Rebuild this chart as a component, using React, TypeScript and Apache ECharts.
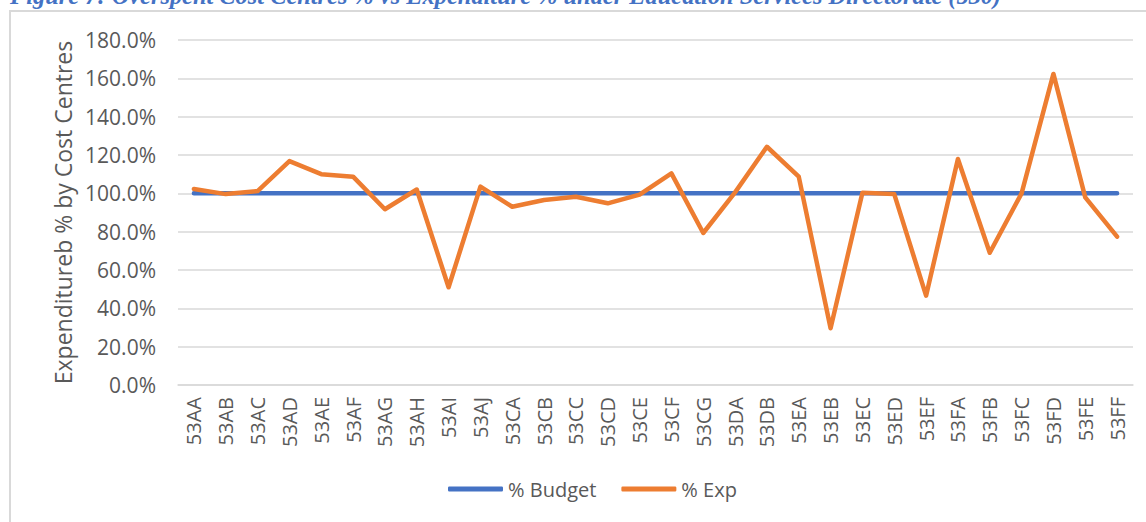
import React, { useEffect, useRef } from "react";
import * as echarts from "echarts";

const categories = [
  "53AA", "53AB", "53AC", "53AD", "53AE", "53AF", "53AG", "53AH", "53AI", "53AJ",
  "53CA", "53CB", "53CC", "53CD", "53CE", "53CF", "53CG", "53DA", "53DB", "53EA",
  "53EB", "53EC", "53ED", "53EF", "53FA", "53FB", "53FC", "53FD", "53FE", "53FF",
];
const budgetValues = categories.map(() => 100);
const expValues = [
  102.3, 99.6, 101.2, 116.8, 110.0, 108.7, 91.7, 102.0, 51.0, 103.5,
  93.0, 96.5, 98.2, 94.8, 99.3, 110.4, 79.3, 100.5, 124.3, 108.7,
  29.6, 100.3, 99.6, 46.6, 117.9, 69.0, 100.0, 162.3, 97.9, 77.4,
];
const yTicks = { min: 0, max: 180, interval: 20 };
const titleText = "Figure 7: Overspent Cost Centres % vs Expenditure % under Education Services Directorate (530)";
const yAxisName = "Expenditureb % by Cost Centres";
const seriesNames = ["% Budget", "% Exp"];

const FONT = "'Open Sans', sans-serif";
const TXT = "#595959";

export default function App() {
  const ref = useRef<HTMLDivElement>(null);
  useEffect(() => {
    const chart = echarts.init(ref.current!, null, { renderer: "svg" });
    chart.setOption({
      animation: false,
      backgroundColor: "#ffffff",
      textStyle: { fontFamily: FONT },
      graphic: [
        {
          type: "line",
          shape: { x1: 9, y1: 11, x2: 1146, y2: 11 },
          style: { stroke: "#d9d9d9", lineWidth: 2 },
        },
        {
          type: "line",
          shape: { x1: 10, y1: 11, x2: 10, y2: 522 },
          style: { stroke: "#d9d9d9", lineWidth: 2 },
        },
        {
          type: "text",
          x: 10,
          y: 7,
          style: {
            text: titleText,
            fill: "#4472C4",
            font: "italic bold 24.4px 'Liberation Serif', serif",
            verticalAlign: "bottom",
            align: "left",
          },
        },
      ],
      grid: { left: 178, right: 13, top: 40, bottom: 137 },
      legend: {
        bottom: 18,
        left: 443,
        icon: "roundRect",
        itemWidth: 55,
        itemHeight: 5,
        itemGap: 25,
        textStyle: { color: TXT, fontSize: 20, fontFamily: FONT },
        data: seriesNames,
      },
      xAxis: {
        type: "category",
        data: categories,
        boundaryGap: true,
        axisLine: { lineStyle: { color: "#d9d9d9", width: 1.5 } },
        axisTick: { show: false },
        axisLabel: {
          rotate: 90,
          interval: 0,
          margin: 12,
          color: TXT,
          fontSize: 20,
          fontFamily: FONT,
        },
      },
      yAxis: {
        type: "value",
        min: yTicks.min,
        max: yTicks.max,
        interval: yTicks.interval,
        name: yAxisName,
        nameLocation: "middle",
        nameGap: 103,
        nameTextStyle: { color: TXT, fontSize: 23, fontFamily: FONT },
        axisLine: { show: false },
        axisTick: { show: false },
        splitLine: { lineStyle: { color: "#d9d9d9", width: 1.5 } },
        axisLabel: {
          color: TXT,
          fontSize: 21,
          margin: 22,
          fontFamily: FONT,
          formatter: (v: number) => v.toFixed(1) + "%",
        },
      },
      series: [
        {
          name: seriesNames[0],
          type: "line",
          data: budgetValues,
          symbol: "none",
          lineStyle: { color: "#4472C4", width: 4.5, cap: "round" },
          itemStyle: { color: "#4472C4" },
          z: 2,
        },
        {
          name: seriesNames[1],
          type: "line",
          data: expValues,
          symbol: "none",
          lineStyle: { color: "#ED7D31", width: 4.5, cap: "round", join: "round" },
          itemStyle: { color: "#ED7D31" },
          z: 3,
        },
      ],
    });
    return () => chart.dispose();
  }, []);
  return (
    <div
      ref={ref}
      style={{ position: "fixed", left: 0, top: 0, width: 1146, height: 522 }}
    />
  );
}
